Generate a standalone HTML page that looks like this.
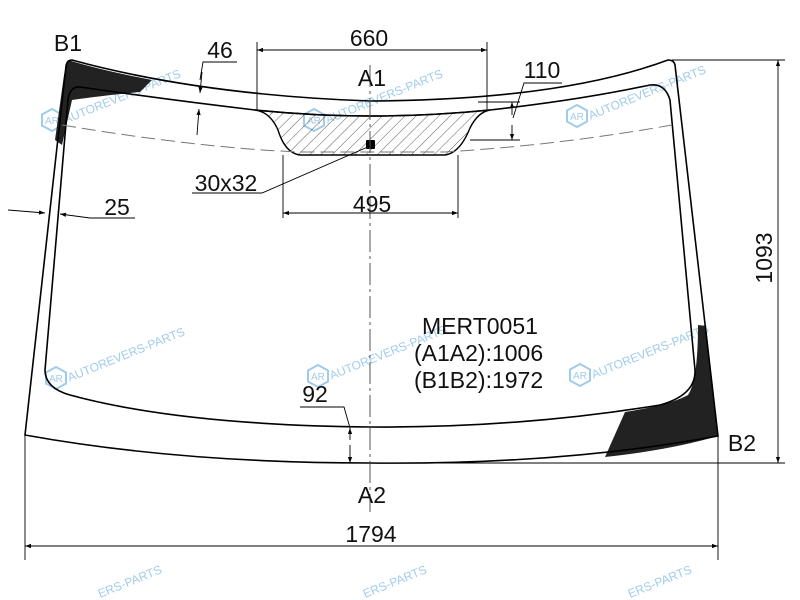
<!DOCTYPE html>
<html><head><meta charset="utf-8"><style>
html,body{margin:0;padding:0;background:#fff;width:800px;height:600px;overflow:hidden;}
svg{display:block;font-family:"Liberation Sans",Arial,sans-serif;}
</style></head><body>
<svg width="800" height="600" viewBox="0 0 800 600" xmlns="http://www.w3.org/2000/svg" overflow="hidden">
<defs>
<pattern id="h" patternUnits="userSpaceOnUse" width="8" height="8" patternTransform="rotate(45)">
<line x1="0" y1="0" x2="0" y2="8" stroke="#333" stroke-width="0.8"/>
</pattern>
<marker id="a" viewBox="0 0 10 10" refX="10" refY="5" markerWidth="9" markerHeight="6" orient="auto-start-reverse" markerUnits="userSpaceOnUse"><path d="M0,1.5 L10,5 L0,8.5 z" fill="#000"/></marker>
<g id="wm">
<polygon points="0,-11 10,-5.5 10,5.5 0,11 -10,5.5 -10,-5.5" fill="none" stroke="#8fc3e8" stroke-width="2"/>
<text x="-7" y="4" font-size="10" fill="#8fc3e8">AR</text>
<text x="12" y="4" font-size="12" fill="#8fc3e8" transform="rotate(-22 12 0)">AUTOREVERS-PARTS</text>
</g>
</defs>

<g opacity="0.85">
<use href="#wm" x="52" y="120"/>
<use href="#wm" x="314" y="120"/>
<use href="#wm" x="577" y="116"/>
<use href="#wm" x="56" y="378"/>
<use href="#wm" x="318" y="376"/>
<use href="#wm" x="580" y="375"/>
<g clip-path="inset(0 0 0 0)">
<text x="100" y="598" font-size="12" fill="#8fc3e8" transform="rotate(-22 100 598)">ERS-PARTS</text>
<text x="365" y="598" font-size="12" fill="#8fc3e8" transform="rotate(-22 365 598)">ERS-PARTS</text>
<text x="630" y="598" font-size="12" fill="#8fc3e8" transform="rotate(-22 630 598)">ERS-PARTS</text>
</g>
</g>

<path d="M68,60 Q100,70 152,80 L140,92 Q100,96 72,100 L62,145 L55,140 L64,75 Z" fill="#222"/>
<path d="M698,325 L706,326 L718,436 Q670,450 605,457 L625,412 Q670,405 688,395 Q698,380 698,325 Z" fill="#222"/>

<path d="M72,60 Q200,95 370,101 Q560,100 668,60 Q674,60 675,65 L718,436 Q560,465 370,463 Q180,463 25,435 L66,66 Q67,60 72,60 Z" fill="none" stroke="#000" stroke-width="1.6"/>
<path d="M80,87 Q170,100 255,110 Q370,122 490,110 Q580,100 650,85 Q665,83 670,100 L695,370 Q696,395 660,405 Q520,428 370,427 Q180,425 70,395 Q45,388 45,370 L68,100 Q70,86 80,87 Z" fill="none" stroke="#000" stroke-width="1.6"/>

<path d="M255,110 Q270,112 278,130 Q285,153 300,155 L445,155 Q460,153 470,128 Q478,112 490,110 Q370,122 255,110 Z" fill="url(#h)" stroke="#000" stroke-width="1.4"/>
<rect x="366" y="140" width="9" height="9" fill="#000" rx="1"/>

<path d="M62,125 Q200,148 300,152 L445,152 Q560,145 672,125" fill="none" stroke="#777" stroke-width="1" stroke-dasharray="14,6"/>
<line x1="370" y1="65" x2="370" y2="512" stroke="#555" stroke-width="1" stroke-dasharray="22,4,3,4"/>

<g stroke="#000" stroke-width="0.9" fill="none">
<line x1="257" y1="42" x2="257" y2="110"/><line x1="487" y1="42" x2="487" y2="110"/>
<line x1="257" y1="50" x2="487" y2="50" marker-start="url(#a)" marker-end="url(#a)"/>
<line x1="283" y1="155" x2="283" y2="218"/><line x1="458" y1="155" x2="458" y2="218"/>
<line x1="283" y1="213" x2="458" y2="213" marker-start="url(#a)" marker-end="url(#a)"/>
<line x1="672" y1="60" x2="785" y2="60"/><line x1="370" y1="463" x2="785" y2="463"/>
<line x1="778" y1="60" x2="778" y2="463" marker-start="url(#a)" marker-end="url(#a)"/>
<line x1="25" y1="435" x2="25" y2="560"/><line x1="718" y1="436" x2="718" y2="560"/>
<line x1="25" y1="546" x2="718" y2="546" marker-start="url(#a)" marker-end="url(#a)"/>
<polyline points="237,62 203,62 200,80" />
<line x1="202" y1="72" x2="200" y2="93" marker-end="url(#a)"/>
<line x1="197" y1="135" x2="199" y2="109" marker-end="url(#a)"/>
<line x1="478" y1="102" x2="520" y2="102"/><line x1="470" y1="140" x2="520" y2="140"/>
<line x1="512" y1="115" x2="512" y2="102" marker-end="url(#a)"/>
<line x1="512" y1="125" x2="512" y2="140" marker-end="url(#a)"/>
<polyline points="513,118 524,83 562,83"/>
<line x1="8" y1="210" x2="45" y2="213" marker-end="url(#a)"/>
<polyline points="135,218 90,218 60,214" marker-end="url(#a)"/>
<polyline points="370,146 262,193 192,193"/>
<polyline points="300,407 344,407 350,428"/>
<line x1="350" y1="440" x2="350" y2="428" marker-end="url(#a)"/>
<line x1="350" y1="445" x2="350" y2="463" marker-end="url(#a)"/>
</g>

<g font-size="23" fill="#111" text-anchor="middle">
<text x="68" y="51">B1</text>
<text x="742" y="451">B2</text>
<text x="372" y="86">A1</text>
<text x="372" y="503">A2</text>
<text x="369" y="46">660</text>
<text x="372" y="212">495</text>
<text x="371" y="542">1794</text>
<text x="220" y="58">46</text>
<text x="542" y="78">110</text>
<text x="117" y="215">25</text>
<text x="226" y="191">30x32</text>
<text x="315" y="402">92</text>
<text x="0" y="0" transform="translate(772,258) rotate(-90)">1093</text>
</g>
<g font-size="23" fill="#111">
<text x="422" y="334">MERT0051</text>
<text x="414" y="361">(A1A2):1006</text>
<text x="414" y="388">(B1B2):1972</text>
</g>
</svg>
</body></html>
